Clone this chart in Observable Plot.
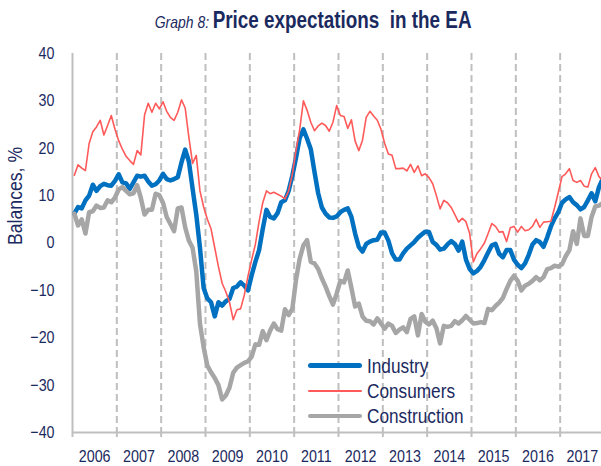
<!DOCTYPE html>
<html><head><meta charset="utf-8">
<script src="https://cdn.jsdelivr.net/npm/d3@7"></script>
<script src="https://cdn.jsdelivr.net/npm/@observablehq/plot@0.6"></script>
<style>
body{margin:0;background:#fff;}
#wrap{position:relative;width:601px;height:466px;overflow:hidden;font-family:"Liberation Sans Narrow","Arial Narrow","Liberation Sans",sans-serif;color:#1B2A5E;}
#title{height:38px;line-height:40px;text-align:center;white-space:nowrap;padding-left:26px;box-sizing:border-box}
#title .inner{display:inline-block;transform:scaleX(0.82);transform-origin:center;}
#title .g{font-style:italic;font-size:17px;}
#title .t{font-weight:bold;font-size:23px;}
#legend{position:absolute;left:308px;top:353px;}
#legend .row{display:flex;align-items:center;height:25.3px;font-size:21px;}
#legend .sw{width:54px;margin-right:5px;border-radius:3px;flex:none}
#legend .lab{display:inline-block;transform:scaleX(0.82);transform-origin:left center;white-space:nowrap}
</style></head>
<body><div id="wrap"><div id="title"><span class="inner"><span class="g">Graph 8:</span> <span class="t">Price expectations&nbsp; in the EA</span></span></div><div id="chart"></div><div id="legend"></div></div>
<script>
const years = [2006,2007,2008,2009,2010,2011,2012,2013,2014,2015,2016,2017];
const yTicks = [-40,-30,-20,-10,0,10,20,30,40];
const seriesNames = ["Industry","Consumers","Construction"];

// monthly balances, Jan 2006 onwards
const industry = [
 6.2,7.6,7.3,9,10,12.3,11,12,12.5,12.2,12.1,13.1,
 14.5,12.8,12.6,11.4,12.8,14.2,14,14.2,13,12.1,12.4,13.2,
 14.6,13.5,13.2,13.5,13.9,17,19.7,17.2,11.5,6,-1,-9.5,
 -11.7,-12.5,-15.5,-12.5,-13.2,-12.3,-11.8,-9.5,-9.2,-8.3,-9,-10,
 -6.8,-4,-1.5,3,7,5.5,5.2,6.3,8.6,9,11,14.2,
 18,22.2,24,22,19.8,15,10.5,7.5,6.2,5.4,5.3,5.6,
 6.5,7,7.3,5.5,2,-0.8,-1.8,-0.2,0.3,0.6,0.7,2.2,
 2.2,0.5,-2.2,-3.5,-3.5,-2.2,-1.2,-0.5,0.2,1.1,1.8,2.4,
 2.3,0.2,-0.4,-1.4,-1.2,-0.3,0.4,-0.2,-1.6,0.3,-3.5,-5.5,
 -6.4,-5.9,-5,-3.6,-2,-0.5,-0.2,-2.3,-3,-1.5,-1.5,-3.5,
 -4.6,-5.3,-4.3,-2.5,-0.3,0.6,0.2,-0.8,1.2,3.5,5.2,6.5,
 8.5,9.2,9.7,8.6,8,7.1,7.6,9,10.5,8.8,11.8,13.5
];
const consumers = [
 14.3,16.5,15.8,15.3,21,23.5,24.5,25.9,22.8,24.8,26.9,24,
 21.6,19.8,18.3,17.4,16.6,19.5,18.6,27,29.5,27.6,29.5,28.3,
 29.8,27.8,26.5,25.9,27.6,30.2,28.5,22.3,16.8,18.5,11,7.6,
 5,3,-1,-5,-8.5,-10.3,-12.5,-16.2,-14.1,-13.9,-11,-7,
 -3.5,-0.3,4.5,8.5,11,10.4,10.7,10.3,9.9,9.3,11,14.5,
 19.5,24,30,28,25.5,23.7,24.7,25.3,24.8,23.6,25.5,29,
 26.9,26.7,24.2,26,21.5,19.5,21.7,26.5,27.8,26.8,25.9,24,
 21,18.8,18.5,15.7,15.7,15.8,15.2,16.6,14.9,16.3,14.2,14.6,
 13.8,12.5,10,7.2,9,8.5,7.5,6,4.4,5.2,4.5,2,
 -4,-2.2,-1.2,0,2,4.1,3.5,2.3,2.4,0.3,3.2,3.5,
 2.3,3.5,2.6,2.8,3.5,5,3.3,4.4,4.5,4.6,7.5,10.7,
 14,14.6,15.7,13.2,12.8,13.2,12,11.8,14.6,15.9,14,13.2
];
const construction = [
 6.2,3.7,5,2,6.5,6.7,7.9,7.4,7.5,9,8.6,9.6,
 11.3,11.8,11,10.3,10.5,12.2,9.5,6,7,7,10.4,10.1,
 8.5,5.5,4,2.5,7.3,7.5,3.3,0.5,-1,-6,-17,-22,
 -25.9,-27.3,-28.5,-30,-33,-32.2,-30.5,-27.4,-26.3,-25.8,-25.3,-25,
 -24,-21.4,-21.5,-18.6,-20.5,-18.5,-17,-18.2,-18.5,-14,-15.2,-13.9,
 -7.8,-3.3,-0.5,0.6,-4,-4.3,-5.5,-7.5,-9.2,-11.2,-13,-10.7,
 -8,-8.3,-5.8,-9.5,-13.4,-12.8,-15.5,-16.4,-16.5,-17.2,-15.9,-17,
 -18.1,-17,-17.5,-19,-18.3,-17.8,-18.8,-16,-15.5,-19.5,-15,-16.6,
 -17.2,-16.4,-18,-21.2,-17.5,-17.7,-17.5,-16.5,-17,-16.3,-15.4,-16.2,
 -17,-16.9,-16.7,-16.9,-13.9,-14.2,-13.3,-12.6,-11.6,-9.7,-8,-6.9,
 -8,-10,-9,-8.6,-8,-7.2,-7.9,-7.2,-5.5,-5.3,-4.8,-5,
 -4.5,-2.8,-1.5,2.5,-0.2,5.2,1.5,1.5,5.5,7.7,7.9,8.4
];

const style = {
  Industry: {stroke: "#0070C0", strokeWidth: 4.5},
  Consumers: {stroke: "#FF5A5A", strokeWidth: 1.6},
  Construction: {stroke: "#A6A6A6", strokeWidth: 4.5}
};
const seriesValues = [industry, consumers, construction];
const axisColor = "#BFBFBF";
const ink = "#1B2A5E";
const font = '"Liberation Sans Narrow","Arial Narrow","Liberation Sans",sans-serif';

const toRows = vals => vals.map((v, i) => ({t: i + 0.5, v}));
const yearStarts = years.map((y, k) => k * 12);
const yearMids = years.map((y, k) => k * 12 + 6);

const chart = Plot.plot({
  width: 601, height: 428,
  marginTop: 15, marginBottom: 34, marginLeft: 72, marginRight: 0,
  x: {domain: [0, 144], range: [72, 604]},
  y: {domain: [-40, 40]},
  style: {fontFamily: font, color: ink, background: "transparent"},
  marks: [
    Plot.ruleX(yearStarts.slice(1), {stroke: axisColor, strokeWidth: 2, strokeDasharray: "7,4"}),
    Plot.axisY({ticks: yTicks, tickSize: 0, tickPadding: 18, fontSize: 17, fill: ink, label: null}),
    Plot.axisX({ticks: yearStarts, tickSize: 5, tickFormat: () => "", stroke: axisColor, strokeWidth: 2, label: null}),
    Plot.axisX({ticks: yearMids, tickSize: 0, tickPadding: 17, fontSize: 17, fill: ink,
      tickFormat: d => String(years[(d - 6) / 12]), label: null}),
    Plot.ruleY([-40], {stroke: axisColor, strokeWidth: 2}),
    Plot.ruleX([0], {stroke: axisColor, strokeWidth: 2}),
    Plot.text(["Balances, %"], {frameAnchor: "left", rotate: -90, dx: -57, dy: 2, fontSize: 21, fill: ink}),
    ...seriesNames.map((name, k) =>
      Plot.line(toRows(seriesValues[k]), {x: "t", y: "v", ...style[name], strokeLinejoin: "round"}))
  ]
});
document.getElementById("chart").appendChild(chart);

// emulate a narrow typeface by condensing every SVG text horizontally
chart.querySelectorAll("text").forEach(t => {
  const len = t.getComputedTextLength();
  if (len > 0) {
    t.setAttribute("textLength", (len * 0.84).toFixed(1));
    t.setAttribute("lengthAdjust", "spacingAndGlyphs");
  }
});

const legend = document.getElementById("legend");
seriesNames.forEach(name => {
  const row = document.createElement("div");
  row.className = "row";
  const sw = document.createElement("div");
  sw.className = "sw";
  sw.style.background = style[name].stroke;
  sw.style.height = style[name].strokeWidth + "px";
  const lab = document.createElement("span");
  lab.className = "lab";
  lab.textContent = name;
  row.appendChild(sw); row.appendChild(lab);
  legend.appendChild(row);
});
</script>
</body></html>
